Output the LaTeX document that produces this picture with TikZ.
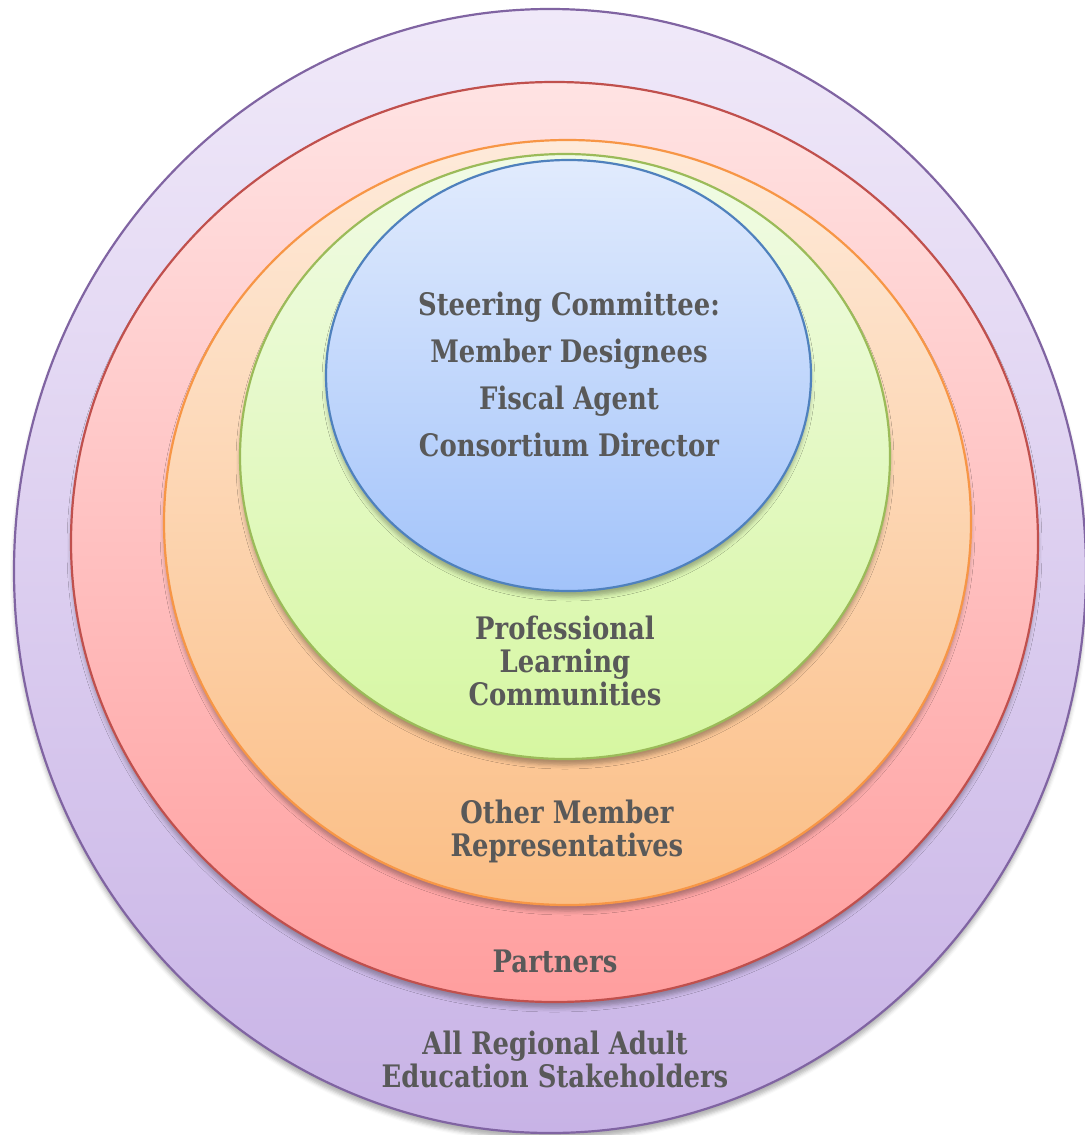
\documentclass[tikz,border=0pt]{standalone}
\usepackage{fontspec}
\setmainfont{DejaVu Serif}[FakeStretch=0.835]
\usetikzlibrary{shapes.geometric,shadows.blur}
\definecolor{txt}{HTML}{595959}
\definecolor{purpleS}{HTML}{8064A2}\definecolor{purpleT}{HTML}{F0E9F9}\definecolor{purpleB}{HTML}{C8B3E6}
\definecolor{redS}{HTML}{C0504D}\definecolor{redT}{HTML}{FFE3E3}\definecolor{redB}{HTML}{FF9E9E}
\definecolor{orS}{HTML}{F79646}\definecolor{orT}{HTML}{FEEADA}\definecolor{orB}{HTML}{FBBE85}
\definecolor{grS}{HTML}{9BBB59}\definecolor{grT}{HTML}{F1FBE6}\definecolor{grB}{HTML}{D6F7A1}
\definecolor{blS}{HTML}{4F81BD}\definecolor{blT}{HTML}{E1EBFD}\definecolor{blB}{HTML}{A2C3FA}
\tikzset{
  ring/.style={ellipse, inner sep=0pt, line width=1.1pt,
    blur shadow={shadow xshift=0pt, shadow yshift=-3pt, shadow blur radius=2pt, shadow opacity=30}},
  lbl/.style={align=center, text=txt, font=\bfseries\fontsize{15.5}{16.5}\selectfont, inner sep=0pt},
  toplbl/.style={lbl, font=\bfseries\fontsize{15.5}{23.5}\selectfont}
}
\begin{document}
\begin{tikzpicture}[x=0.5pt,y=-0.5pt]
\useasboundingbox (0,0) rectangle (1085,1135);
\node[ring, draw=purpleS, top color=purpleT, bottom color=purpleB, minimum width=536pt, minimum height=562pt] (all) at (550,571) {};
\node[ring, draw=redS, top color=redT, bottom color=redB, minimum width=483.5pt, minimum height=460pt] (part) at (554.5,542) {};
\node[ring, draw=orS, top color=orT, bottom color=orB, minimum width=403.5pt, minimum height=382.5pt] (other) at (567.5,522.5) {};
\node[ring, draw=grS, top color=grT, bottom color=grB, minimum width=325pt, minimum height=302.5pt] (plc) at (565,456.5) {};
\node[ring, draw=blS, top color=blT, bottom color=blB, minimum width=242.5pt, minimum height=215.5pt] (steer) at (568.5,375.5) {};
\node[toplbl] (tsteer) at (569,374.5) {Steering Committee:\\ Member Designees\\Fiscal Agent\\Consortium Director};
\node[lbl] (tplc) at (565,661) {Professional\\Learning\\Communities};
\node[lbl] (tother) at (567,831.5) {Other Member\\Representatives};
\node[lbl] (tpart) at (555,961) {Partners};
\node[lbl] (tall) at (555,1059) {All Regional Adult\\Education Stakeholders};
\end{tikzpicture}
\end{document}
